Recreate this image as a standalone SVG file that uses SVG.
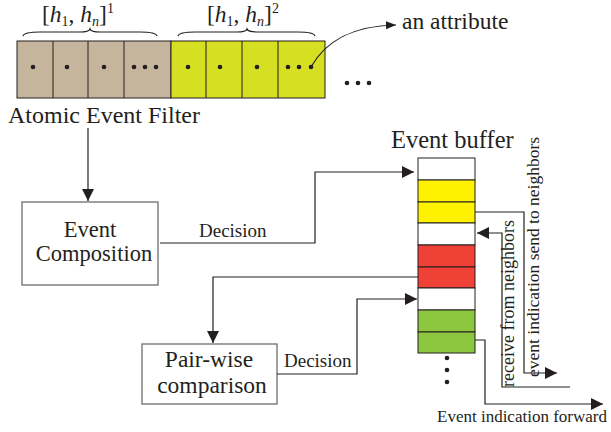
<svg xmlns="http://www.w3.org/2000/svg" width="611" height="432" viewBox="0 0 611 432">
<style>
text{font-family:"Liberation Serif","Times New Roman",serif;fill:#231f20}
.big{font-size:23.5px}
.sm{font-size:17.5px}
.box{fill:#fff;stroke:#6d6e71;stroke-width:1.3}
.cell{stroke:#231f20;stroke-width:1}
.ln{fill:none;stroke:#231f20;stroke-width:1.2}
.dot{fill:#231f20}
</style>
<defs>
<marker id="ah" markerWidth="12" markerHeight="12" refX="12" refY="6" orient="auto" markerUnits="userSpaceOnUse">
<path d="M0,0 L12,6 L0,12 Z" fill="#231f20"/>
</marker>
<marker id="ahs" markerWidth="10" markerHeight="10" refX="10" refY="5" orient="auto" markerUnits="userSpaceOnUse">
<path d="M0,1 L10,5 L0,9 Z" fill="#231f20"/>
</marker>
</defs>

<g id="atomic-event-filter">
<rect class="cell" x="17" y="41" width="154" height="57" fill="#c5b59c"/>
<rect class="cell" x="171" y="41" width="154" height="57" fill="#d7df23"/>
<path class="cell" d="M53,41V98M88,41V98M124,41V98M206,41V98M242,41V98M278,41V98" fill="none"/>
<g class="dot">
<circle cx="33" cy="67" r="2.3"/><circle cx="67" cy="67" r="2.3"/><circle cx="104" cy="67" r="2.3"/>
<circle cx="134" cy="67" r="2.3"/><circle cx="145" cy="67" r="2.3"/><circle cx="156" cy="67" r="2.3"/>
<circle cx="188" cy="67" r="2.3"/><circle cx="220" cy="67" r="2.3"/><circle cx="257" cy="67" r="2.3"/>
<circle cx="288" cy="67" r="2.3"/><circle cx="299" cy="67" r="2.3"/><circle cx="311" cy="67" r="2.3"/>
<circle cx="347" cy="83" r="2.3"/><circle cx="358" cy="83" r="2.3"/><circle cx="369" cy="83" r="2.3"/>
</g>
<path class="ln" stroke-width="1" d="M23,36 Q24,32 40,32 L80,32 Q89,32 90,29 Q91,32 100,32 L140,32 Q156,32 157,36"/>
<path class="ln" stroke-width="1" d="M178,36 Q179,32 195,32 L237,32 Q246,32 247,29 Q248,32 257,32 L298,32 Q314,32 315,36"/>
<text class="big" x="42" y="22">[<tspan font-style="italic">h</tspan><tspan style="font-size:14px" dy="4">1</tspan><tspan dy="-4">, </tspan><tspan font-style="italic">h</tspan><tspan style="font-size:14px" font-style="italic" dy="4">n</tspan><tspan dy="-4">]</tspan><tspan style="font-size:14px" dy="-9">1</tspan></text>
<text class="big" x="207" y="22">[<tspan font-style="italic">h</tspan><tspan style="font-size:14px" dy="4">1</tspan><tspan dy="-4">, </tspan><tspan font-style="italic">h</tspan><tspan style="font-size:14px" font-style="italic" dy="4">n</tspan><tspan dy="-4">]</tspan><tspan style="font-size:14px" dy="-9">2</tspan></text>
<text class="big" x="8" y="123" style="font-size:24px">Atomic Event Filter</text>
<text class="big" x="402" y="29">an attribute</text>
</g>

<g id="event-composition">
<rect class="box" x="22" y="202" width="136" height="83"/>
<text class="big" x="90" y="237" text-anchor="middle" style="font-size:22.5px">Event</text>
<text class="big" x="94" y="261" text-anchor="middle" style="font-size:22.5px">Composition</text>
</g>

<g id="pair-wise-comparison">
<rect class="box" x="142" y="344" width="135" height="60"/>
<text class="big" x="209" y="367" text-anchor="middle">Pair-wise</text>
<text class="big" x="212" y="393" text-anchor="middle">comparison</text>
</g>

<g id="event-buffer">
<rect class="cell" x="418" y="158" width="57" height="22" fill="#fff"/>
<rect class="cell" x="418" y="180" width="57" height="22" fill="#fff200"/>
<rect class="cell" x="418" y="202" width="57" height="21" fill="#fff200"/>
<rect class="cell" x="418" y="223" width="57" height="22" fill="#fff"/>
<rect class="cell" x="418" y="245" width="57" height="22" fill="#ef4136"/>
<rect class="cell" x="418" y="267" width="57" height="21" fill="#ef4136"/>
<rect class="cell" x="418" y="288" width="57" height="22" fill="#fff"/>
<rect class="cell" x="418" y="310" width="57" height="22" fill="#8dc63f"/>
<rect class="cell" x="418" y="332" width="57" height="21" fill="#8dc63f"/>
<circle class="dot" cx="447" cy="358" r="2.3"/><circle class="dot" cx="447" cy="370" r="2.3"/><circle class="dot" cx="447" cy="382" r="2.3"/>
<text class="big" x="391" y="148" style="font-size:24.5px">Event buffer</text>
</g>

<g id="connectors">
<path class="ln" stroke-width="1" d="M311,67 C325,42 350,26 396,25" marker-end="url(#ahs)"/>
<path class="ln" d="M88,128 V201" marker-end="url(#ah)"/>
<path class="ln" d="M160,243 H315 V172 H414" marker-end="url(#ah)"/>
<path class="ln" d="M418,277 H213 V343" marker-end="url(#ah)"/>
<path class="ln" d="M277,374 H357 V299 H417" marker-end="url(#ah)"/>
<path class="ln" d="M475,212 H524 V373 H557" marker-end="url(#ah)"/>
<path class="ln" d="M570,387 H502 V233 H477" marker-end="url(#ah)"/>
<path class="ln" d="M475,340 H485 V404 H603" marker-end="url(#ah)"/>
<text class="sm" x="199" y="237" style="font-size:19px">Decision</text>
<text class="sm" x="284" y="367" style="font-size:19px">Decision</text>
<text class="sm" x="437" y="422" style="font-size:17px">Event indication forward</text>
<text class="sm" transform="translate(539,377) rotate(-90)">event indication send to neighbors</text>
<text class="sm" transform="translate(514,387) rotate(-90)" style="font-size:18px">receive from neighbors</text>
</g>
</svg>
